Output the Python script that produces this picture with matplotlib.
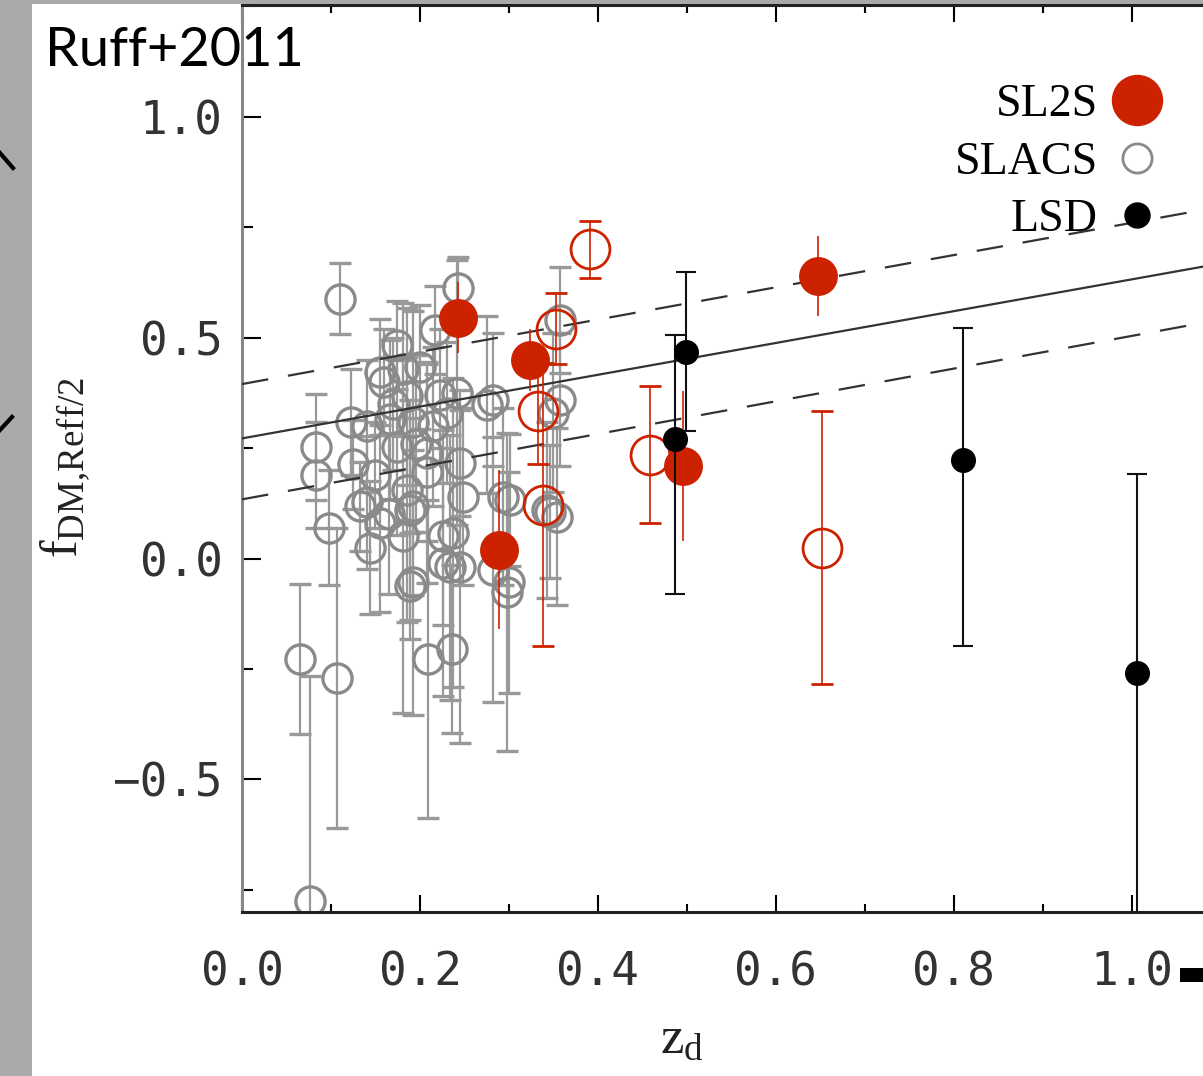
import matplotlib
matplotlib.use("Agg")
import matplotlib.pyplot as plt
from matplotlib.lines import Line2D
from matplotlib.patches import Rectangle
from matplotlib.ticker import MultipleLocator
import numpy as np

plt.rcParams['mathtext.fontset'] = 'custom'
plt.rcParams['mathtext.rm'] = 'Liberation Serif'
plt.rcParams['mathtext.it'] = 'Liberation Serif:italic'

# SLACS lenses: redshift, f_DM, symmetric error
slacs_z = [0.065, 0.076, 0.083, 0.083, 0.098, 0.107, 0.110, 0.123, 0.125, 0.133,
           0.140, 0.144, 0.155, 0.155, 0.166, 0.174, 0.174, 0.181, 0.185, 0.185,
           0.189, 0.181, 0.192, 0.192, 0.192, 0.189, 0.200, 0.208, 0.208, 0.209,
           0.217, 0.222, 0.226, 0.226, 0.234, 0.236, 0.237, 0.242, 0.243, 0.245,
           0.248, 0.245, 0.275, 0.282, 0.282, 0.293, 0.298, 0.301, 0.343, 0.346,
           0.350, 0.354, 0.357, 0.357, 0.300, 0.160, 0.170, 0.195, 0.215, 0.230,
           0.150, 0.165, 0.140]
slacs_f = [-0.228, -0.775, 0.253, 0.190, 0.070, -0.270, 0.588, 0.310, 0.213, 0.118,
           0.127, 0.025, 0.080, 0.423, 0.315, 0.484, 0.253, 0.428, 0.367, 0.156,
           0.110, 0.050, 0.310, 0.118, -0.054, -0.063, 0.434, 0.240, 0.195, -0.228,
           0.518, 0.370, 0.050, -0.010, -0.020, -0.205, 0.059, 0.375, 0.613, 0.217,
           0.140, -0.018, 0.348, 0.360, -0.025, 0.140, -0.075, 0.133, 0.110, 0.106,
           0.330, 0.095, 0.360, 0.540, -0.054, 0.400, 0.350, 0.260, 0.300, 0.330,
           0.190, 0.100, 0.300]
slacs_err = [0.17, 0.51, 0.12, 0.12, 0.13, 0.34, 0.08, 0.12, 0.10, 0.10,
             0.15, 0.15, 0.20, 0.12, 0.18, 0.10, 0.20, 0.15, 0.20, 0.30,
             0.25, 0.40, 0.25, 0.20, 0.30, 0.12, 0.14, 0.20, 0.25, 0.36,
             0.10, 0.15, 0.20, 0.30, 0.30, 0.19, 0.35, 0.30, 0.07, 0.12,
             0.20, 0.40, 0.20, 0.15, 0.30, 0.20, 0.36, 0.15, 0.20, 0.15,
             0.18, 0.20, 0.15, 0.12, 0.25, 0.12, 0.15, 0.20, 0.18, 0.16,
             0.12, 0.18, 0.15]

# SL2S lenses, filled (grade A) and open
sl2s_z = [0.243, 0.324, 0.289, 0.496, 0.647]
sl2s_f = [0.545, 0.450, 0.020, 0.210, 0.640]
sl2s_err = [0.08, 0.07, 0.18, 0.17, 0.09]

sl2s_open_z = [0.391, 0.353, 0.333, 0.338, 0.458, 0.652]
sl2s_open_f = [0.700, 0.520, 0.335, 0.122, 0.235, 0.025]
sl2s_open_err = [0.065, 0.08, 0.12, 0.32, 0.155, 0.31]

# LSD lenses with asymmetric errors
lsd_z = [0.499, 0.487, 0.810, 1.006]
lsd_f = [0.468, 0.270, 0.222, -0.258]
lsd_err_lo = [0.18, 0.35, 0.42, 0.60]
lsd_err_hi = [0.18, 0.235, 0.30, 0.45]

# linear fit and its scatter
fit_a, fit_b = 0.272, 0.360
fit_hi_a, fit_hi_b = 0.395, 0.365
fit_lo_a, fit_lo_b = 0.134, 0.370

RED = '#cc2200'
GRAY = '#8a8a8a'

fig = plt.figure(figsize=(12.03, 10.76), dpi=100, facecolor='#aaaaaa')
fig.patches.append(Rectangle((32 / 1203, 0), 1 - 32 / 1203, 1 - 4 / 1076,
                             transform=fig.transFigure, facecolor='white',
                             edgecolor='none', zorder=-5))

ax = fig.add_axes([242 / 1203, 164 / 1076, 961 / 1203, 907 / 1076])
ax.set_xlim(0, 1.08)
ax.set_ylim(-0.8, 1.253)

ax.errorbar(slacs_z, slacs_f, yerr=slacs_err, fmt='o', ms=21, mfc='none',
            mec=GRAY, mew=2.4, ecolor='#999999', elinewidth=1.6, capsize=8,
            capthick=1.6, zorder=2)

zz = np.array([0.0, 1.08])
ax.plot(zz, fit_a + fit_b * zz, color='#333333', lw=1.6, zorder=3)
ax.plot(zz, fit_hi_a + fit_hi_b * zz, color='#333333', lw=1.6,
        dashes=(12, 9), zorder=3)
ax.plot(zz, fit_lo_a + fit_lo_b * zz, color='#333333', lw=1.6,
        dashes=(12, 9), zorder=3)

ax.errorbar(sl2s_open_z, sl2s_open_f, yerr=sl2s_open_err, fmt='o', ms=28,
            mfc='none', mec=RED, mew=2.0, ecolor=RED, elinewidth=1.2,
            capsize=8, capthick=1.2, zorder=4)
ax.errorbar(sl2s_z, sl2s_f, yerr=sl2s_err, fmt='o', ms=28, mfc=RED, mec=RED,
            mew=0, ecolor=RED, elinewidth=1.2, capsize=8, capthick=1.2,
            zorder=5)
ax.errorbar(lsd_z, lsd_f, yerr=[lsd_err_lo, lsd_err_hi], fmt='o', ms=17,
            color='black', ecolor='#111111', elinewidth=1.5, capsize=7,
            capthick=1.5, zorder=6)

handles = [
    Line2D([], [], ls='none', marker='o', ms=36, mfc=RED, mec=RED),
    Line2D([], [], ls='none', marker='o', ms=21, mfc='none', mec=GRAY, mew=2),
    Line2D([], [], ls='none', marker='o', ms=18, mfc='black', mec='black'),
]
ax.legend(handles, ['SL2S', 'SLACS', 'LSD'], loc='upper right',
          bbox_to_anchor=(0.955, 0.913), frameon=False, markerfirst=False,
          handlelength=1.0, handletextpad=0.35, labelspacing=0.32,
          borderpad=0, borderaxespad=0,
          prop={'family': 'Liberation Serif', 'size': 33})

ax.xaxis.set_major_locator(MultipleLocator(0.2))
ax.xaxis.set_minor_locator(MultipleLocator(0.1))
ax.yaxis.set_major_locator(MultipleLocator(0.5))
ax.yaxis.set_minor_locator(MultipleLocator(0.25))
ax.tick_params(axis='x', which='major', direction='in', length=12, width=1.5,
               top=True, pad=28)
ax.tick_params(axis='x', which='minor', direction='in', length=6, width=1.5,
               top=True)
ax.tick_params(axis='y', which='major', direction='in', length=14, width=1.5,
               right=False, pad=14)
ax.tick_params(axis='y', which='minor', direction='in', length=8, width=1.5,
               right=False)
ax.set_xticklabels([f'{v:.1f}' for v in ax.get_xticks()])
ax.set_yticks([-0.5, 0.0, 0.5, 1.0])
ax.set_yticklabels(['\u22120.5', '0.0', '0.5', '1.0'])
for lab in ax.get_xticklabels() + ax.get_yticklabels():
    lab.set_family('DejaVu Sans Mono')
    lab.set_fontsize(33)
    lab.set_color('#333333')

for side in ['top', 'bottom']:
    ax.spines[side].set_linewidth(2.2)
    ax.spines[side].set_color('#222222')
ax.spines['left'].set_linewidth(2.2)
ax.spines['left'].set_color('#888888')
ax.spines['right'].set_visible(False)

ax.set_ylabel(r'$\mathrm{f}_{\mathrm{DM{,}Reff/2}}$', fontsize=38,
              color='#222222')
ax.yaxis.set_label_coords(-0.156, 0.49)
ax.set_xlabel(r'$\mathrm{z}_{\mathrm{d}}$', fontsize=38, color='#222222')
ax.xaxis.set_label_coords(0.458, -0.11)

fig.text(45 / 1203, 1 - 66 / 1076, 'Ruff+2011', fontsize=39,
         family='Lato', color='black', va='baseline', ha='left')

# slide decorations at the edges
fig.add_artist(Line2D([0 / 1203, 13 / 1203], [1 - 153 / 1076, 1 - 168 / 1076],
                      color='black', lw=3))
fig.add_artist(Line2D([0 / 1203, 12 / 1203], [1 - 430 / 1076, 1 - 417 / 1076],
                      color='black', lw=3))
fig.patches.append(Rectangle((1180 / 1203, 1 - 982 / 1076), 23 / 1203, 14 / 1076,
                             transform=fig.transFigure, facecolor='black',
                             edgecolor='none', zorder=5))

fig.savefig('out.png', dpi=100, facecolor=fig.get_facecolor())
